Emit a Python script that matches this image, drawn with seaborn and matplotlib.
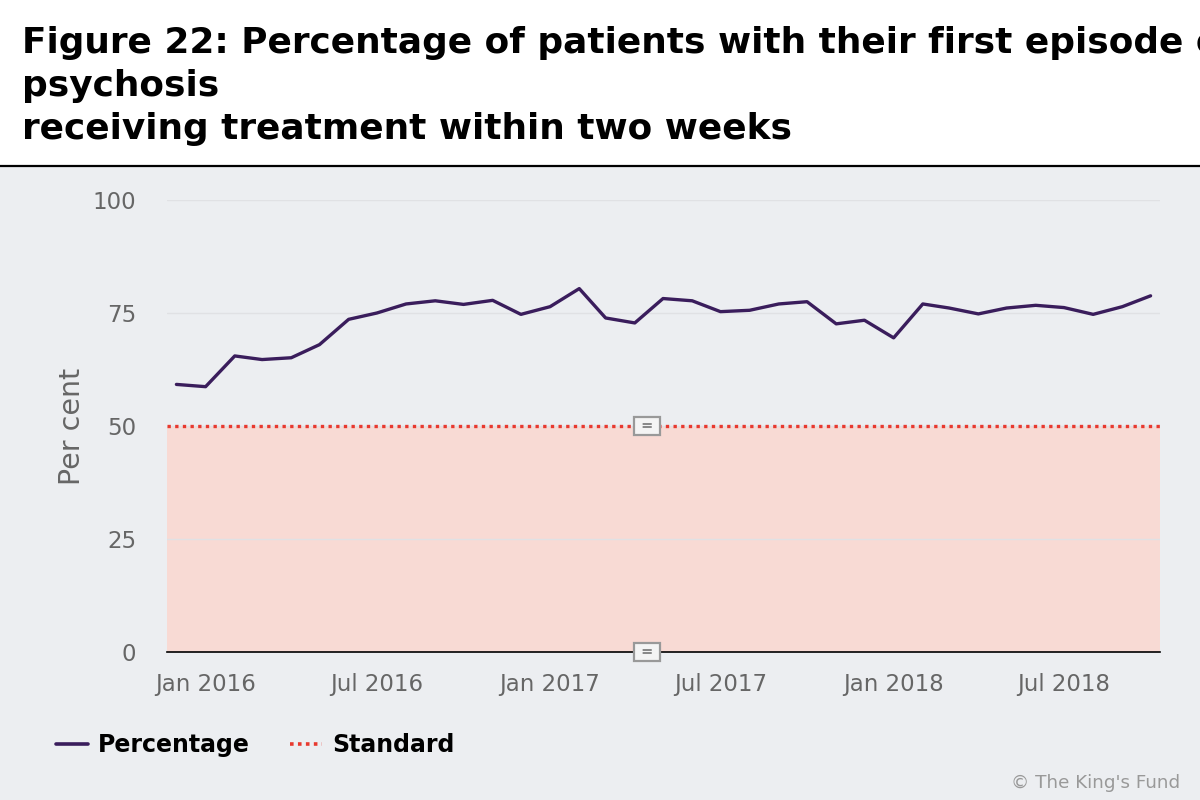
import seaborn as sns
import pandas as pd
import matplotlib.pyplot as plt
from matplotlib.lines import Line2D
from matplotlib.patches import Rectangle

# Monthly series, Dec 2015 - Oct 2018
months = pd.date_range("2015-12-01", "2018-10-01", freq="MS")
percentage = [59.2, 58.7, 65.5, 64.7, 65.1, 68.0, 73.6, 75.0, 77.0, 77.7, 76.9, 77.8,
              74.7, 76.4, 80.4, 73.9, 72.8, 78.2, 77.7, 75.3, 75.6, 77.0, 77.5, 72.6,
              73.4, 69.5, 77.0, 76.1, 74.8, 76.1, 76.7, 76.2, 74.7, 76.4, 78.8]
standard = 50
tick_dates = pd.to_datetime(["2016-01-01", "2016-07-01", "2017-01-01",
                             "2017-07-01", "2018-01-01", "2018-07-01"])
tick_labels = ["Jan 2016", "Jul 2016", "Jan 2017", "Jul 2017", "Jan 2018", "Jul 2018"]
y_ticks = [0, 25, 50, 75, 100]

df = pd.DataFrame({"Date": months, "Percentage": percentage})

bg = "#ECEEF1"
line_col = "#3A1D5C"
red = "#E8392F"

sns.set_theme(style="white")
plt.rcParams["font.family"] = ["DejaVu Sans"]

fig = plt.figure(figsize=(12, 8), dpi=100, facecolor=bg)

# white title band and separator line
fig.patches.append(Rectangle((0, 0.7925), 1, 0.2075, transform=fig.transFigure,
                             facecolor="white", edgecolor="none", zorder=0))
fig.add_artist(Line2D([0, 1], [0.7925, 0.7925], transform=fig.transFigure,
                      color="black", lw=1.6))

# first line runs off the right edge, as in the original
title_lines = ["Figure 22: Percentage of patients with their first episode of",
               "psychosis", "receiving treatment within two weeks"]
for i, t in enumerate(title_lines):
    fig.text(22 / 1200, 1 - (53 + 43 * i) / 800, t, fontsize=25.8, fontweight="bold",
             color="black", ha="left", va="baseline")

ax = fig.add_axes([167 / 1200, 1 - 652 / 800, (1160 - 167) / 1200, (652 - 200) / 800])
ax.set_facecolor(bg)

x0 = pd.Timestamp("2015-11-21")
x1 = pd.Timestamp("2018-10-11")
ax.axhspan(0, standard, color="#F8DAD4", zorder=0, lw=0)
ax.axhline(standard, color=red, lw=2.4, ls=(0, (1, 1.3)), zorder=2)

sns.lineplot(data=df, x="Date", y="Percentage", ax=ax, color=line_col, lw=2.4, zorder=3)

ax.set_xlim(x0, x1)
ax.set_ylim(0, 100)
ax.set_yticks(y_ticks)
ax.set_xticks(tick_dates)
ax.set_xticklabels(tick_labels)
for y in y_ticks[1:]:
    ax.axhline(y, color="#E0E1E4", lw=1, zorder=1)

ax.tick_params(axis="both", colors="#666666", labelsize=16.5, length=0)
ax.tick_params(axis="x", pad=15)
ax.tick_params(axis="y", pad=22)
ax.set_xlabel("")
ax.set_ylabel("Per cent", fontsize=20.5, color="#666666", labelpad=5)
for s in ["top", "right", "left"]:
    ax.spines[s].set_visible(False)
ax.spines["bottom"].set_color("black")
ax.spines["bottom"].set_linewidth(1.2)

# small band label boxes
for yv in [standard, 0]:
    ax.text(pd.Timestamp("2017-04-14"), yv, " = ", ha="center", va="center",
            fontsize=10.5, color="#8A8A8A", zorder=5, fontweight="bold",
            bbox=dict(boxstyle="square,pad=0.12", fc="#F4F4F4", ec="#999999", lw=1.6))

handles = [Line2D([], [], color=line_col, lw=2.6),
           Line2D([], [], color=red, lw=2.6, ls=(0, (1, 1.2)))]
fig.legend(handles, ["Percentage", "Standard"], loc="center left",
           bbox_to_anchor=(0.047, 0.069), frameon=False, ncol=2,
           prop={"weight": "bold", "size": 17}, handlelength=1.35,
           columnspacing=1.7, handletextpad=0.42, labelcolor="black",
           borderaxespad=0, borderpad=0)

fig.text(1180 / 1200, 1 - 783 / 800, "\u00a9 The King's Fund", ha="right", va="center",
         fontsize=13.2, color="#999999")

fig.savefig("out.png", dpi=100, facecolor=bg)
